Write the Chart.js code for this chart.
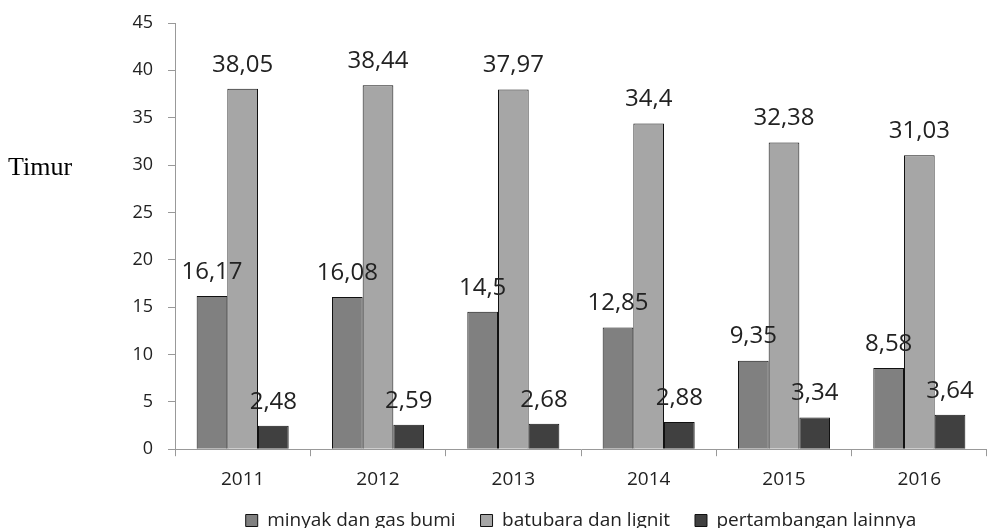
<!DOCTYPE html>
<html>
<head>
<meta charset="utf-8">
<script src="https://cdn.jsdelivr.net/npm/chart.js@4"></script>
<style>
  html, body { margin: 0; padding: 0; background: #fff; }
  #wrap { position: relative; width: 987px; height: 528px; }
  #side { position: absolute; left: 8px; top: 152px; font-family: "Liberation Serif", serif; font-size: 26px; color: #000; }
</style>
</head>
<body>
<div id="wrap">
  <canvas id="chart" width="987" height="528"></canvas>
  <div id="side">Timur</div>
</div>
<script>
// data
const years = ['2011', '2012', '2013', '2014', '2015', '2016'];
const minyakGas = [16.17, 16.08, 14.5, 12.85, 9.35, 8.58];
const batubara = [38.05, 38.44, 37.97, 34.4, 32.38, 31.03];
const lainnya = [2.48, 2.59, 2.68, 2.88, 3.34, 3.64];
const yTicks = [0, 5, 10, 15, 20, 25, 30, 35, 40, 45];

const fontName = '"Open Sans", "DejaVu Sans", sans-serif';

// writes the value over each bar, with a comma as decimal mark
const valueLabels = {
    id: 'valueLabels',
    afterDatasetsDraw(chart) {
        const ctx = chart.ctx;
        ctx.save();
        ctx.font = '24px ' + fontName;
        ctx.fillStyle = '#222';
        ctx.textAlign = 'center';
        ctx.textBaseline = 'middle';
        chart.data.datasets.forEach((ds, i) => {
            chart.getDatasetMeta(i).data.forEach((bar, j) => {
                const txt = String(ds.data[j]).replace('.', ',');
                ctx.fillText(txt, bar.x, bar.y - 24);
            });
        });
        ctx.restore();
    }
};

new Chart(document.getElementById('chart'), {
    type: 'bar',
    data: {
        labels: years,
        datasets: [
            { label: 'minyak dan gas bumi', data: minyakGas, backgroundColor: '#808080', borderColor: '#111', borderWidth: 1 },
            { label: 'batubara dan lignit', data: batubara, backgroundColor: '#a6a6a6', borderColor: '#111', borderWidth: 1 },
            { label: 'pertambangan lainnya', data: lainnya, backgroundColor: '#404040', borderColor: '#111', borderWidth: 1 }
        ]
    },
    options: {
        responsive: false,
        animation: false,
        layout: { padding: { top: 23, right: 0, left: 0, bottom: -12 } },
        datasets: { bar: { barPercentage: 1, categoryPercentage: 0.68 } },
        scales: {
            x: {
                afterFit: (scale) => { scale.height -= 17; },
                grid: { display: true, drawOnChartArea: false, drawTicks: true, tickLength: 7, offset: true, color: '#999' },
                border: { color: '#999' },
                ticks: { color: '#222', font: { family: fontName, size: 19 }, padding: 12 }
            },
            y: {
                min: 0,
                max: 45,
                afterBuildTicks: (scale) => { scale.ticks = yTicks.map(v => ({ value: v })); },
                afterFit: (scale) => {
                    scale.width = 175;
                    scale.paddingTop = 0;
                    scale.paddingBottom = 0;
                },
                grid: { display: true, drawOnChartArea: false, drawTicks: true, tickLength: 7, color: '#999' },
                border: { color: '#999' },
                ticks: { color: '#222', font: { family: fontName, size: 18 }, padding: 15 }
            }
        },
        plugins: {
            legend: {
                position: 'bottom',
                fullSize: false,
                labels: {
                    color: '#222',
                    font: { family: fontName, size: 19 },
                    boxWidth: 12,
                    boxHeight: 12,
                    padding: 25
                }
            },
            tooltip: { enabled: false }
        }
    },
    plugins: [valueLabels]
});
</script>
</body>
</html>
